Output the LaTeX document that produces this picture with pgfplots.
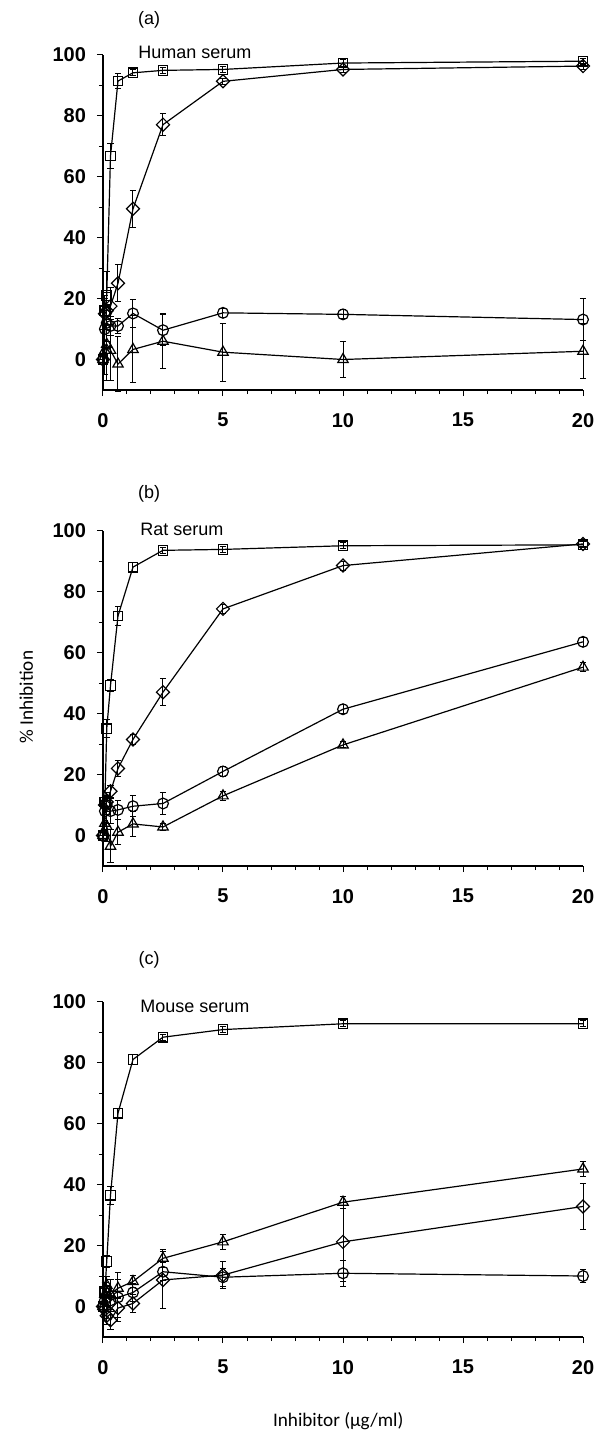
\documentclass[border=0pt]{standalone}
\usepackage{pgfplots}
\usepackage{pgfplotstable}
\pgfplotsset{compat=1.18}
\usepackage{fontspec}
\setmainfont{Liberation Sans}
\newfontfamily\labfont{Carlito}

\pgfplotstableread{
x      sq   sqe  di   die  ci   cie  tr   tre
0      0    1    0    1    0    1    0    1
0.078  16   5    15   5    10   6    3    8
0.156  21   8    16   6    12   6    5    12
0.3125 66.7 4    17.5 6    11   3    3    10
0.625  91.3 2.5  25   6    11   2.5  -1.5 9
1.25   94   1    49.4 6    15.1 4.5  3.3  11
2.5    94.8 1    77   3.5  9.6  5    6    9
5      95.1 1    91.2 1    15.3 1.5  2.4  9.5
10     97.2 1    95.1 1    14.8 1.5  0    6
20     97.8 1    96.2 1    13.1 7    2.7  9
}\dataA

\pgfplotstableread{
x      sq   sqe  di   die  ci   cie  tr   tre
0      0    1    0    1    0    1    0    1
0.078  11   2    10   2    8    3    4    4
0.156  35   3    11   3    10   3    3    5
0.3125 49.2 2    14.5 2    8    4    -3.5 5.5
0.625  72   3    22   2.5  8.4  3    1.1  4
1.25   88   1.5  31.5 1.5  9.6  3.5  3.8  4
2.5    93.5 1    47   4.5  10.5 3.5  2.8  1
5      93.8 1    74.3 1.5  21   1.5  13   1.5
10     95   1    88.5 1.5  41.4 1.5  29.7 1
20     95.3 1    95.6 1    63.5 1.5  55.2 1.5
}\dataB

\pgfplotstableread{
x      sq   sqe  di   die  ci   cie  tr   tre
0      0    1    0    1    0    1    0    1
0.078  5    3    -1   3    2    3    4    4
0.156  14.7 2    -3   3    3    4    7    3
0.3125 36.5 3    -4.5 3    2    3    4    5
0.625  63.4 1.5  -0.5 3    3    8    6    3
1.25   81   1.5  1    3    4.6  3    8.2  2
2.5    88.3 1    8.7  9.5  11.4 3    15.8 3
5      90.8 1    10.3 4.5  9.6  3    21.2 2.5
10     92.7 1    21.2 13   10.9 4.3  34.2 2
20     92.7 1    32.8 7.5  10   2    45.1 2.5
}\dataC

\pgfplotsset{
  panel/.style={
    scale only axis, width=240pt, height=167.75pt,
    xmin=0, xmax=20, ymin=-10, ymax=100,
    axis lines=left, axis line style={-, line width=0.6pt},
    xtick={0,5,10,15,20}, ytick={0,20,40,60,80,100},
    minor x tick num=4, minor y tick num=1,
    tick align=outside, major tick length=3pt, minor tick length=2pt,
    tick style={black, line width=0.5pt},
    tick label style={font=\bfseries\fontsize{10}{12}\selectfont},
    /pgf/number format/assume math mode=true,
    xticklabel style={yshift=-5pt},
    yticklabel style={xshift=-2pt},
    clip=false,
  },
  ser/.style={black, line width=0.6pt, mark options={fill=white, solid, line width=0.6pt},
    error bars/y dir=both, error bars/y explicit,
    error bars/error bar style={line width=0.5pt},
    error bars/error mark options={rotate=90, mark size=1.6pt, line width=0.5pt}},
}

\newcommand{\series}[1]{%
  \addplot[ser, mark=square, mark size=2.4pt] table[x=x, y=sq, y error=sqe] {#1};
  \addplot[ser, mark=square, mark size=2.3pt, mark options={rotate=45, fill=white, solid, line width=0.6pt}] table[x=x, y=di, y error=die] {#1};
  \addplot[ser, mark=o, mark size=2.7pt] table[x=x, y=ci, y error=cie] {#1};
  \addplot[ser, mark=triangle, mark size=3pt] table[x=x, y=tr, y error=tre] {#1};
}

\begin{document}
\begin{tikzpicture}
\path[use as bounding box] (-51.5pt,195pt) rectangle (251pt,-522.5pt);

\begin{axis}[panel, at={(0pt,0pt)}, anchor=south west]
  \series{\dataA}
  \node[font=\fontsize{9}{11}\selectfont] at (axis cs:1.92,111.5) {(a)};
  \node[font=\fontsize{9}{11}\selectfont, anchor=west, inner sep=0pt] at (axis cs:1.46,100.8) {Human serum};
\end{axis}

\begin{axis}[panel, at={(0pt,-238pt)}, anchor=south west]
  \series{\dataB}
  \node[font=\fontsize{9}{11}\selectfont] at (axis cs:1.92,112) {(b)};
  \node[font=\fontsize{9}{11}\selectfont, anchor=west, inner sep=0pt] at (axis cs:1.54,100.3) {Rat serum};
  \node[font=\labfont\fontsize{9.6}{11}\selectfont, rotate=90] at (rel axis cs:-0.16,0.503) {\% Inhibition};
\end{axis}

\begin{axis}[panel, at={(0pt,-473.5pt)}, anchor=south west]
  \series{\dataC}
  \node[font=\fontsize{9}{11}\selectfont] at (axis cs:1.92,113.5) {(c)};
  \node[font=\fontsize{9}{11}\selectfont, anchor=west, inner sep=0pt] at (axis cs:1.54,98.5) {Mouse serum};
  \node[font=\labfont\fontsize{9.6}{11}\selectfont] at (rel axis cs:0.49,-0.25) {Inhibitor (µg/ml)};
\end{axis}
\end{tikzpicture}
\end{document}
